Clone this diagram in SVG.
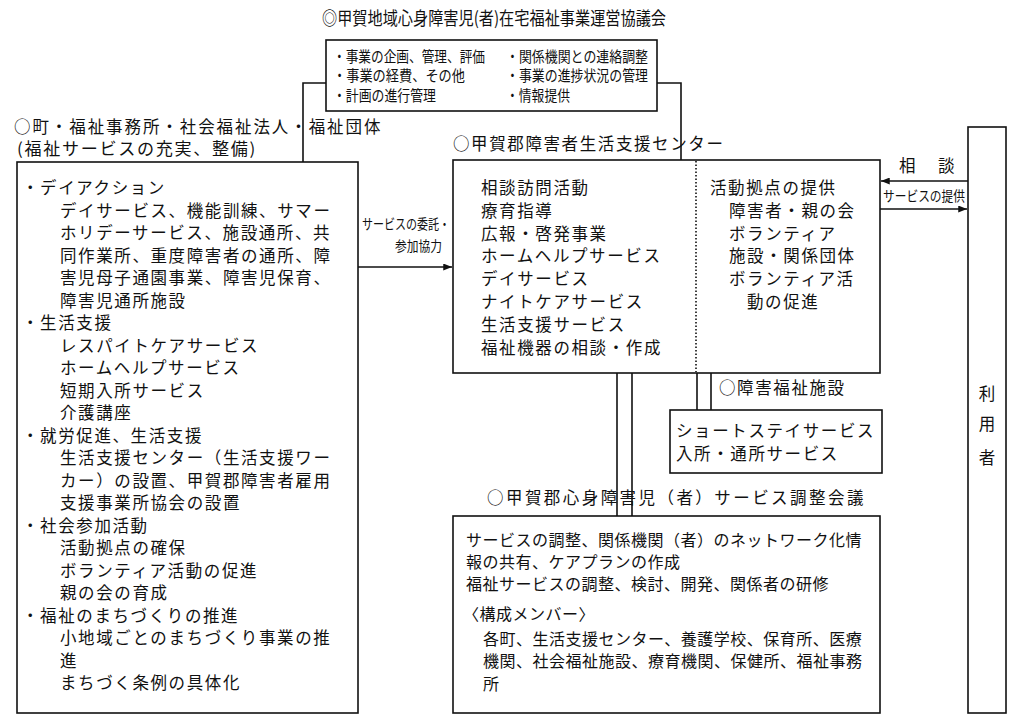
<svg xmlns="http://www.w3.org/2000/svg" width="1016" height="722" viewBox="0 0 1016 722">
<style>
text{font-family:"Noto Sans CJK JP","Noto Sans CJK SC",sans-serif;fill:#111}
.b{font-size:16.5px;letter-spacing:1.6px}
.s{font-size:16px;letter-spacing:0.5px}
.c{font-size:15px}
.n{font-size:14px}
.box{fill:#fff;stroke:#111;stroke-width:1.6}
.ln{stroke:#111;stroke-width:1.6;fill:none}
</style>
<defs>
<marker id="ah" viewBox="0 0 10 8" refX="10" refY="4" markerWidth="9" markerHeight="7" markerUnits="userSpaceOnUse" orient="auto">
<path d="M0,0 L10,4 L0,8 z" fill="#111"/>
</marker>
</defs>
<rect width="1016" height="722" fill="#fff"/>

<g id="connectors">
<path class="ln" d="M303,162 V83 H326"/>
<path class="ln" d="M657,83 H681 V160"/>
<line class="ln" x1="358" y1="267" x2="452" y2="267" marker-end="url(#ah)"/>
<line class="ln" x1="968" y1="181" x2="881" y2="181" marker-end="url(#ah)"/>
<line class="ln" x1="880" y1="209" x2="967" y2="209" marker-end="url(#ah)"/>
<line class="ln" x1="697" y1="373" x2="697" y2="410"/>
<line class="ln" x1="711" y1="373" x2="711" y2="410"/>
<line class="ln" x1="617" y1="373" x2="617" y2="516"/>
<line class="ln" x1="632" y1="373" x2="632" y2="516"/>
<text class="n" x="362" y="229" textLength="88" lengthAdjust="spacingAndGlyphs">サービスの委託・</text>
<text class="n" x="395" y="251" textLength="47" lengthAdjust="spacingAndGlyphs">参加協力</text>
<text class="b" x="899" y="172" style="letter-spacing:3px">相　談</text>
<text class="n" x="883" y="201" textLength="82" lengthAdjust="spacingAndGlyphs">サービスの提供</text>
</g>

<g id="council">
<text x="322" y="25" style="font-size:18px" textLength="344" lengthAdjust="spacingAndGlyphs">◎甲賀地域心身障害児(者)在宅福祉事業運営協議会</text>
<rect class="box" x="326" y="40" width="331" height="71"/>
<text class="c" x="333" y="62" textLength="152" lengthAdjust="spacingAndGlyphs">・事業の企画、管理、評価</text>
<text class="c" x="333" y="81" textLength="132" lengthAdjust="spacingAndGlyphs">・事業の経費、その他</text>
<text class="c" x="333" y="101" textLength="103" lengthAdjust="spacingAndGlyphs">・計画の進行管理</text>
<text class="c" x="506" y="62" textLength="142" lengthAdjust="spacingAndGlyphs">・関係機関との連絡調整</text>
<text class="c" x="506" y="81" textLength="142" lengthAdjust="spacingAndGlyphs">・事業の進捗状況の管理</text>
<text class="c" x="506" y="101" textLength="64" lengthAdjust="spacingAndGlyphs">・情報提供</text>
</g>

<g id="towns">
<text class="b" x="14" y="133" textLength="368" lengthAdjust="spacing">○町・福祉事務所・社会福祉法人・福祉団体</text>
<text class="b" x="17" y="155" textLength="240" lengthAdjust="spacingAndGlyphs">(福祉サービスの充実、整備)</text>
<rect class="box" x="17" y="162" width="341" height="551"/>
<text class="b" x="22" y="194">・デイアクション</text>
<text class="b" x="60" y="216.5">デイサービス、機能訓練、サマー</text>
<text class="b" x="60" y="239">ホリデーサービス、施設通所、共</text>
<text class="b" x="60" y="261.5">同作業所、重度障害者の通所、障</text>
<text class="b" x="60" y="284">害児母子通園事業、障害児保育、</text>
<text class="b" x="60" y="306.5">障害児通所施設</text>
<text class="b" x="22" y="329">・生活支援</text>
<text class="b" x="60" y="351.5">レスパイトケアサービス</text>
<text class="b" x="60" y="374">ホームヘルプサービス</text>
<text class="b" x="60" y="396.5">短期入所サービス</text>
<text class="b" x="60" y="419">介護講座</text>
<text class="b" x="22" y="441.5">・就労促進、生活支援</text>
<text class="b" x="60" y="464">生活支援センター（生活支援ワー</text>
<text class="b" x="60" y="486.5">カー）の設置、甲賀郡障害者雇用</text>
<text class="b" x="60" y="509">支援事業所協会の設置</text>
<text class="b" x="22" y="531.5">・社会参加活動</text>
<text class="b" x="60" y="554">活動拠点の確保</text>
<text class="b" x="60" y="576.5">ボランティア活動の促進</text>
<text class="b" x="60" y="599">親の会の育成</text>
<text class="b" x="22" y="621.5">・福祉のまちづくりの推進</text>
<text class="b" x="60" y="644">小地域ごとのまちづくり事業の推</text>
<text class="b" x="60" y="666.5">進</text>
<text class="b" x="60" y="689">まちづく条例の具体化</text>
</g>

<g id="center">
<text class="b" x="453" y="150">○甲賀郡障害者生活支援センター</text>
<rect class="box" x="453" y="160" width="427" height="213"/>
<line x1="696" y1="161" x2="696" y2="372" stroke="#111" stroke-width="1.6" stroke-dasharray="1.5,2"/>
<text class="b" x="481" y="194">相談訪問活動</text>
<text class="b" x="481" y="216.8">療育指導</text>
<text class="b" x="481" y="239.6">広報・啓発事業</text>
<text class="b" x="481" y="262.4">ホームヘルプサービス</text>
<text class="b" x="481" y="285.2">デイサービス</text>
<text class="b" x="481" y="308">ナイトケアサービス</text>
<text class="b" x="481" y="330.8">生活支援サービス</text>
<text class="b" x="481" y="353.6">福祉機器の相談・作成</text>
<text class="b" x="710" y="194">活動拠点の提供</text>
<text class="b" x="729" y="216.8">障害者・親の会</text>
<text class="b" x="729" y="239.6">ボランティア</text>
<text class="b" x="729" y="262.4">施設・関係団体</text>
<text class="b" x="729" y="285.2">ボランティア活</text>
<text class="b" x="747" y="308">動の促進</text>
</g>

<g id="facility">
<text class="b" x="719" y="394">○障害福祉施設</text>
<rect class="box" x="670" y="410" width="212" height="63"/>
<text class="b" x="676" y="437">ショートステイサービス</text>
<text class="b" x="676" y="460">入所・通所サービス</text>
</g>

<g id="adjustment">
<text class="b" x="487" y="504" textLength="378" lengthAdjust="spacing">○甲賀郡心身障害児（者）サービス調整会議</text>
<rect class="box" x="453" y="516" width="427" height="197"/>
<text class="s" x="466" y="546">サービスの調整、関係機関（者）のネットワーク化情</text>
<text class="s" x="466" y="568">報の共有、ケアプランの作成</text>
<text class="s" x="466" y="590">福祉サービスの調整、検討、開発、関係者の研修</text>
<text class="s" x="463" y="620">〈構成メンバー〉</text>
<text class="s" x="483" y="645">各町、生活支援センター、養護学校、保育所、医療</text>
<text class="s" x="483" y="667">機関、社会福祉施設、療育機関、保健所、福祉事務</text>
<text class="s" x="483" y="690">所</text>
</g>

<g id="users">
<rect class="box" x="968" y="127" width="38" height="586"/>
<text class="b" x="987" y="400" text-anchor="middle" style="letter-spacing:0">利</text>
<text class="b" x="987" y="430" text-anchor="middle" style="letter-spacing:0">用</text>
<text class="b" x="987" y="464" text-anchor="middle" style="letter-spacing:0">者</text>
</g>
</svg>
